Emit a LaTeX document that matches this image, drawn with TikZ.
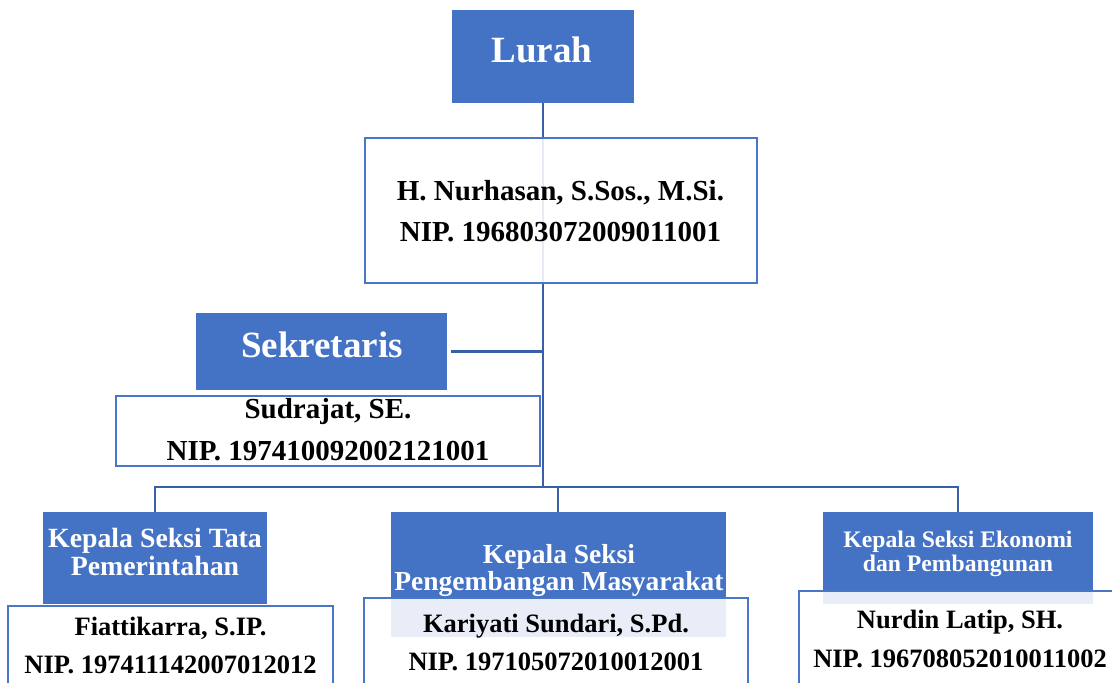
\documentclass[tikz,border=0pt]{standalone}
\usepackage{fontspec}
\setmainfont{Liberation Serif}
\definecolor{hb}{HTML}{4472C4}
\definecolor{edge}{HTML}{4A76C6}
\definecolor{wire}{HTML}{3A5FAA}
\begin{document}
\begin{tikzpicture}[x=1pt,y=-1pt,
  head/.style={fill=hb, draw=none, inner sep=0pt, outer sep=0pt},
  card/.style={draw=edge, line width=2.8pt, fill=white, fill opacity=0.88, inner sep=0pt, outer sep=0pt},
  wirestyle/.style={draw=wire, line width=2.8pt},
  fs/.style={font=\fontsize{#1}{#1}\selectfont\bfseries},
  lbl/.style={anchor=base, inner sep=0pt},
  wlbl/.style={lbl, text=white}]
\useasboundingbox (0,0) rectangle (1112,683);
\clip (0,0) rectangle (1112,683);

% header boxes
\node[head, minimum width=182pt, minimum height=93pt] (lurah) at (543,56.5) {};
\node[head, minimum width=251pt, minimum height=77pt] (sek) at (321.5,351.5) {};
\node[head, minimum width=224pt, minimum height=92pt] (lh) at (155,558) {};
\node[head, minimum width=335pt, minimum height=125pt] (mh) at (558.5,574.5) {};
\node[head, minimum width=270pt, minimum height=92pt] (rh) at (958,558) {};

% connectors
\coordinate (bus) at (543,487);
\draw[wirestyle] (lurah.south) -- (bus);
\draw[wirestyle] ([xshift=4pt]sek.east) -- (sek.east -| bus);
\draw[wirestyle] (lh.north) |- (bus);
\draw[wirestyle] (rh.north) |- (bus);
\draw[wirestyle] ([xshift=-0.5pt]mh.north) |- (bus);

% name cards
\node[card, minimum width=392pt, minimum height=145pt] (nur) at (561,210.5) {};
\node[card, minimum width=424pt, minimum height=70pt] (sud) at (328,431) {};
\node[card, minimum width=325pt, minimum height=104pt] (lp) at (170.5,658) {};
\node[card, minimum width=384pt, minimum height=112pt] (mp) at (556,654) {};
\node[card, minimum width=322pt, minimum height=119pt] (rp) at (960,650.5) {};

% texts
\node[wlbl, fs=37] (tlurah) at (542,62) {Lurah};
\node[lbl, fs=29] (tnur1) at (560.5,200) {H. Nurhasan, S.Sos., M.Si.};
\node[lbl, fs=29] (tnur2) at (560.5,241) {NIP. 196803072009011001};
\node[wlbl, fs=37] (tsek) at (322,357) {Sekretaris};
\node[lbl, fs=29] (tsud1) at (328,418) {Sudrajat, SE.};
\node[lbl, fs=29] (tsud2) at (328,460) {NIP. 197410092002121001};

\node[wlbl, fs=27.8] (tlh1) at (155,547) {Kepala Seksi Tata};
\node[wlbl, fs=27.8] (tlh2) at (155,575) {Pemerintahan};
\node[lbl, fs=26.5] (tlp1) at (170.5,635) {Fiattikarra, S.IP.};
\node[lbl, fs=26.5] (tlp2) at (170.5,673) {NIP. 197411142007012012};

\node[wlbl, fs=27.5] (tmh1) at (559,563) {Kepala Seksi};
\node[wlbl, fs=27.5] (tmh2) at (559,590) {Pengembangan Masyarakat};
\node[lbl, fs=26.5] (tmp1) at (556,632) {Kariyati Sundari, S.Pd.};
\node[lbl, fs=26.5] (tmp2) at (556,670) {NIP. 197105072010012001};

\node[wlbl, fs=23.7] (trh1) at (958,547) {Kepala Seksi Ekonomi};
\node[wlbl, fs=23.7] (trh2) at (958,571) {dan Pembangunan};
\node[lbl, fs=26.5] (trp1) at (960,628) {Nurdin Latip, SH.};
\node[lbl, fs=26.5] (trp2) at (960,667) {NIP. 196708052010011002};
\end{tikzpicture}
\end{document}
